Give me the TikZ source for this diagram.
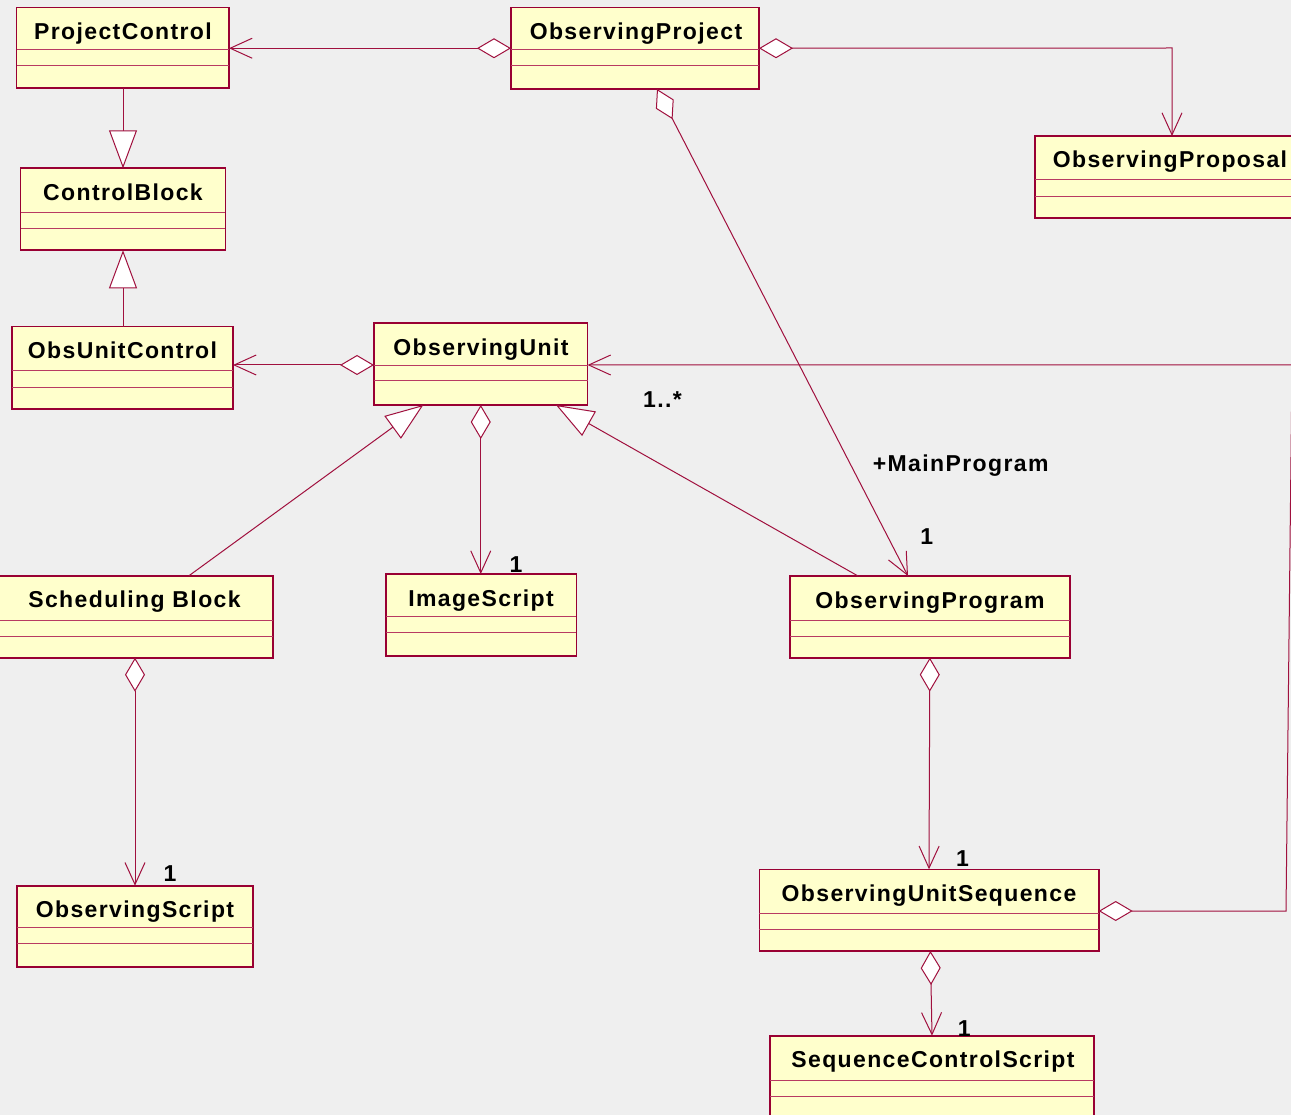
\documentclass[tikz,border=0pt]{standalone}
\usepackage{fontspec}
\newfontfamily\umlfont{Liberation Sans}[LetterSpace=6]
\usetikzlibrary{arrows.meta}
\definecolor{bg}{HTML}{EFEFEF}
\definecolor{boxfill}{HTML}{FFFFCC}
\definecolor{bordc}{HTML}{990033}
\definecolor{compc}{HTML}{B83A62}
\definecolor{lc}{HTML}{A0103E}
\tikzset{
  classbox/.style={draw=bordc, fill=boxfill, line width=1.6pt, inner sep=0pt, outer sep=0pt},
  compline/.style={draw=compc, line width=1pt},
  nametext/.style={anchor=base, inner sep=0pt, font=\umlfont\bfseries\fontsize{23}{27}\selectfont},
  lbl/.style={anchor=base, inner sep=0pt, font=\umlfont\bfseries\fontsize{23}{27}\selectfont},
  conn/.style={draw=lc, line width=1pt},
  agg/.style={conn, {Diamond[fill=white,length=34pt,width=20pt]}-{Straight Barb[length=22pt,width=20pt]}},
  gen/.style={conn, -{Triangle[fill=white,length=38pt,width=28pt]}},
}
\newcommand\umlclass[9]{%
  \pgfmathsetmacro\cw{#4-#2}\pgfmathsetmacro\ch{#5-#3}%
  \node[classbox, minimum width=\cw pt, minimum height=\ch pt, anchor=north west] (#1) at (#2,#3) {};
  \draw[compline] (#2,#6) -- (#4,#6) (#2,#7) -- (#4,#7);
  \node[nametext] (#1-name) at (#9,{#3+32}) {#8};
}
\begin{document}
\begin{tikzpicture}[x=1pt,y=-1pt]
\useasboundingbox (0,0) rectangle (1291,1115);
\fill[bg] (0,0) rectangle (1291,1115);
\clip (0,0) rectangle (1291,1115);

% classes
\umlclass{pc}{16.5}{7.5}{229}{88}{50}{66}{ProjectControl}{123}
\umlclass{op}{511}{7.5}{759}{89}{50}{66}{ObservingProject}{636}
\umlclass{prop}{1035}{136}{1306}{218}{180}{196.5}{ObservingProposal}{1170}
\umlclass{cb}{20.5}{168.3}{225.3}{250.3}{212.7}{229}{ControlBlock}{123}
\umlclass{ouc}{12}{326.7}{233}{409}{371}{387.3}{ObsUnitControl}{122.5}
\umlclass{ou}{374}{323.3}{587.5}{405}{365.7}{381}{ObservingUnit}{481}
\umlclass{sb}{-4}{575.7}{273}{657.7}{620}{636.7}{Scheduling Block}{134.5}
\umlclass{is}{385.8}{574}{576.3}{655.7}{616.3}{632.3}{ImageScript}{481}
\umlclass{opg}{789.7}{576}{1070}{657.7}{620}{636.7}{ObservingProgram}{930}
\umlclass{os}{16.7}{885.7}{253}{967}{927.7}{943.3}{ObservingScript}{135}
\umlclass{ous}{759.3}{869.3}{1098.7}{951}{913.3}{929.3}{ObservingUnitSequence}{929}
\umlclass{scs}{770}{1035.7}{1094}{1125}{1080}{1096.7}{SequenceControlScript}{933}

% coordinates for bends
\coordinate (bendA) at (1172,48);
\coordinate (bendB) at (1286,911);
\coordinate (bendC) at (1292,365);

% aggregations
\draw[agg] (op.west) -- (pc.east |- op.west);
\draw[agg] (op.east) -- (bendA) -- (bendA |- prop.north);
\draw[agg] ([xshift=146pt]op.south west) -- ([xshift=118.3pt]opg.north west);
\draw[agg] (ou.west |- 0,365) -- (ouc.east |- 0,365);
\draw[agg] (ou.south) -- (is.north -| ou.south);
\draw[agg] (sb.south -| 135,0) -- (os.north -| 135,0);
\draw[agg] (opg.south) -- ([xshift=169.7pt]ous.north west);
\draw[agg] ([xshift=171.1pt]ous.south west) -- ([xshift=162pt]scs.north west);
\draw[agg] (ous.east |- 0,911) -- (bendB) -- (bendC) -- (ou.east |- 0,365);

% generalizations
\draw[gen] (pc.south -| 123,0) -- (cb.north -| 123,0);
\draw[gen] (ouc.north -| 123,0) -- (cb.south -| 123,0);
\draw[gen] ([xshift=193pt]sb.north west) -- ([xshift=49.3pt]ou.south west);
\draw[gen] ([xshift=68.3pt]opg.north west) -- ([xshift=182pt]ou.south west);

% labels
\node[lbl, anchor=base west] (l1) at (643,407.3) {1..*};
\node[lbl, anchor=base west] (l2) at (872.7,471.7) {+MainProgram};
\node[lbl] (l3) at (516,572) {1};
\node[lbl] (l4) at (926.7,544) {1};
\node[lbl] (l5) at (962.4,866.7) {1};
\node[lbl] (l6) at (964.2,1036) {1};
\node[lbl] (l7) at (170,881.7) {1};
\end{tikzpicture}
\end{document}
